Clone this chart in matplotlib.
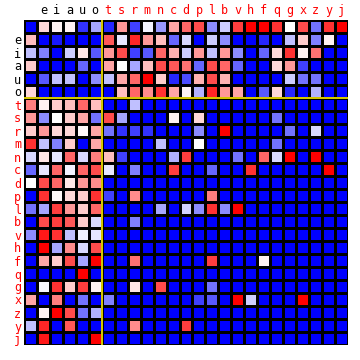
import numpy as np
import matplotlib
matplotlib.use("Agg")
import matplotlib.pyplot as plt

# letter labels (first row/col is the blank "space" entry)
letters = [' ', 'e', 'i', 'a', 'u', 'o', 't', 's', 'r', 'm', 'n', 'c', 'd',
           'p', 'l', 'b', 'v', 'h', 'f', 'q', 'g', 'x', 'z', 'y', 'j']
vowels = ['e', 'i', 'a', 'u', 'o']

# cell values in tenths, -10 = full blue, 0 = white, 10 = full red
row_space = [-10, 1.5, 0.5, 0.5, -8, -3.5, -8.5, 4, -7.5, -0.5, -4, 3.5, 6, 7, -4.5, -2, 7.5, 10, 10, 8, 0, 7, -5.5, 8, 10]
row_e = [2.5, -10, -9, -10, -10, -10, 6.5, -1, 8.5, 4, 2.5, -6, -1.5, -10, -2, -4.5, -10, -10, -8.5, -10, -2.5, 2, -5, 0.5, -10]
row_i = [-2.5, -5, -10, -2, 1, -6.5, 4, 7, -7.5, -6.5, 6, 3, -2, 4, -2.5, 4, -4.5, -10, -6, 1.5, 8, 0.5, 5.5, -10, -10]
row_a = [2, -10, -10, -10, -6, -10, 3.5, 0, -3.5, 2.5, 7, 6.5, 5.5, -6, 7, 6, -6, -10, -10, 1.5, 4, -7.5, -10, -10, -10]
row_u = [-10, -6.5, -2.5, -2.5, -10, -4.5, -2.5, 3.5, 6, 10, 2, -8.5, -7, 3, 7, 3, -10, -10, -10, -10, -2, -5.5, -5.5, -10, -10]
row_o = [1.5, -10, -10, -10, -10, -10, -10, 2.5, 6, 4.5, 8, 3.5, 0.5, -3, 8.5, 4, 3.5, -10, -6.5, 1.5, -8.5, -10, -3, -10, -10]
row_t = [5, 0.5, 2, 2.5, 6, 2.5, -10, -10, -2.5, -10, -10, -10, -10, -10, -10, -10, -10, -10, -10, -10, -10, -10, -10, -10, -10]
row_s = [4, -4.5, 0, 2, 3.5, -5.5, 7, -3.5, -10, -10, -10, 0.5, -10, 1.5, -10, -10, -10, -10, -10, -5.5, -10, -10, -10, -10, -10]
row_r = [2, 4, 1.5, 1.5, 0.3, 3.5, -5.5, -8, -7.5, -8, -10, -10, -10, -4.5, -10, 10, -10, -10, -10, -10, -5.5, -10, -1.5, -10, -10]
row_m = [8, -2.5, -5, 2, -10, 3.5, -10, -10, -10, -10, -2.5, -10, -10, 0, -10, -10, -10, -10, -10, -5.5, -10, -10, -10, -10, -10]
row_n = [-1.5, 1, -1, 6, -1.5, 5, 2.5, -7.5, -10, -10, -10, -3, 7.5, -10, -10, -10, -5.5, -10, 6, -1.5, 10, -10, 10, -10, -10]
row_c = [-6, -1, 6, -0.5, 6, 7, -1, -10, -5, -10, -10, 7.5, -10, -10, -6, -10, -10, 8, -10, -10, -10, -10, -10, 10, -10]
row_d = [0, 7, 6, 1, 4, 4.5, -10, -10, -10, -10, -10, -10, -10, -10, -10, -10, -10, -10, -10, -10, -10, -10, -10, -10, -10]
row_p = [-10, 8, 0.3, 1.5, 2, 8, -7.5, -10, 4.5, -10, -10, -10, -10, -10, 5, -10, -10, -10, -10, -10, -10, -10, -10, -10, -10]
row_l = [-5.5, -3.5, 7.5, 4, 2, 6, -10, -10, -10, -10, -3.5, -10, -1.8, -4.5, 8, -4.5, 10, -10, -10, -10, -10, -10, -10, -10, -10]
row_b = [-10, 7, 7.5, 6.5, 2, -1.5, -10, -10, -5, -10, -10, -10, -10, -10, -10, -10, -10, -10, -10, -10, -10, -10, -10, -10, -10]
row_v = [-4.5, 9, 8, -2.5, -0.5, -1, -10, -10, -10, -10, -10, -10, -10, -10, -10, -10, -10, -10, -10, -10, -10, -10, -10, -10, -10]
row_h = [-10, 10, -3.5, 4.5, -1.5, 7, -10, -10, -10, -10, -10, -10, -10, -10, -10, -10, -10, -10, -10, -10, -10, -10, -10, -10, -10]
row_f = [-10, 3.5, 2, 7, -3.5, 10, -10, -10, 5.5, -10, -10, -10, -10, -10, 7.5, -10, -10, -10, 0.5, -10, -10, -10, -10, -10, -10]
row_q = [-10, -10, -10, -10, 10, -10, -10, -10, -10, -10, -10, -10, -10, -10, -10, -10, -10, -10, -10, -10, -10, -10, -10, -10, -10]
row_g = [-10, -0.3, 8, 2, 7.5, 0.5, -10, -10, 1, -10, 7, -10, -10, -10, -5.5, -10, -10, -10, -10, -10, -10, -10, -10, -10, -10]
row_x = [3.5, -10, 5, -10, -5.5, -10, -5, -10, -10, -10, -10, -10, -10, -7.5, -6.5, -10, 10, -2, -10, -10, -10, 10, -10, -10, -10]
row_z = [-10, 0.5, 10, 7, -5.5, -3, -10, -10, -10, -10, -10, -10, -10, -10, -10, -10, -10, -10, -10, -10, -10, -10, -10, -10, -10]
row_y = [-2.5, 8.5, -10, 6.5, -10, -10, -10, -10, 4.5, -10, -10, -10, 7.5, -10, -10, -10, -10, -10, -10, -10, -10, -10, -10, -10, -10]
row_j = [-10, 9, -10, -10, -10, 10, -10, -10, -10, -10, -10, -10, -10, -10, -10, -10, -10, -10, -10, -10, -10, -10, -10, -10, -10]

rows = [row_space, row_e, row_i, row_a, row_u, row_o, row_t, row_s, row_r,
        row_m, row_n, row_c, row_d, row_p, row_l, row_b, row_v, row_h,
        row_f, row_q, row_g, row_x, row_z, row_y, row_j]
grid = np.array(rows) / 10.0

fig = plt.figure(figsize=(3.6, 3.6), dpi=100)
ax = fig.add_axes([24 / 360, 15 / 360, 324 / 360, 325 / 360])

ax.pcolormesh(grid, cmap='bwr', vmin=-1, vmax=1, edgecolors='black', linewidth=0.9)
ax.set_xlim(0, len(letters))
ax.set_ylim(len(letters), 0)

# yellow separators between the vowel block and the consonants
n_v = len(vowels) + 1
ax.axvline(n_v, color='#ffee00', lw=1.2)
ax.axhline(n_v, color='#ffee00', lw=1.2)

pos = np.arange(len(letters)) + 0.5
ax.set_xticks(pos)
ax.set_yticks(pos)
ax.set_xticklabels(letters, family='DejaVu Sans Mono', fontsize=8.5)
ax.set_yticklabels(letters, family='DejaVu Sans Mono', fontsize=8.5)
ax.xaxis.tick_top()
ax.tick_params(length=0, pad=2)
for lab in ax.get_xticklabels() + ax.get_yticklabels():
    lab.set_color('black' if lab.get_text() in vowels else 'red')

for s in ax.spines.values():
    s.set_visible(False)

fig.savefig('out.png', dpi=100)
